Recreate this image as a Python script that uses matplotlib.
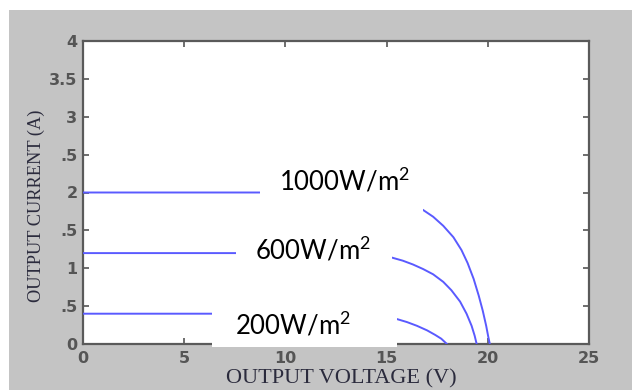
import matplotlib
matplotlib.use('Agg')
import matplotlib.pyplot as plt
from matplotlib.patches import Rectangle

# --------------------------------------------------
# Data
# --------------------------------------------------

v_1000 = [0, 4, 8, 12, 13, 14, 15, 16, 16.8, 17.3, 17.8, 18.3, 18.7, 19.0,
          19.3, 19.55, 19.75, 19.92, 20.02, 20.1]
i_1000 = [2.0, 2.0, 2.0, 2.0, 1.99, 1.97, 1.93, 1.85, 1.77, 1.68, 1.56, 1.41, 1.24, 1.07,
          0.86, 0.64, 0.44, 0.24, 0.10, 0.0]

v_600 = [0, 4, 8, 12, 13, 14, 14.5, 15.27, 15.8, 16.3, 16.8, 17.3, 17.8, 18.2,
         18.63, 18.95, 19.2, 19.35, 19.45]
i_600 = [1.2, 1.2, 1.2, 1.2, 1.19, 1.18, 1.17, 1.14, 1.10, 1.05, 0.99, 0.92, 0.82, 0.71,
         0.56, 0.40, 0.24, 0.11, 0.0]

v_200 = [0, 4, 8, 12, 13, 14, 14.5, 15.5, 16.0, 16.5, 17.0, 17.4, 17.7, 17.98]
i_200 = [0.4, 0.4, 0.4, 0.4, 0.39, 0.38, 0.37, 0.33, 0.29, 0.24, 0.18, 0.12, 0.07, 0.0]

labels = ['1000W/m$^2$', '600W/m$^2$', '200W/m$^2$']

x_ticks = [0, 5, 10, 15, 20, 25]
y_ticks = [0, 0.5, 1, 1.5, 2, 2.5, 3, 3.5, 4]
y_tick_labels = ['0', '.5', '1', '.5', '2', '.5', '3', '3.5', '4']

# --------------------------------------------------
# Style
# --------------------------------------------------

BG_GREY = '#c4c4c4'
LINE_BLUE = '#5a5aff'
TICK_GREY = '#555555'
AXIS_TEXT = '#2b2b3d'

plt.rcParams['mathtext.fontset'] = 'custom'
plt.rcParams['mathtext.rm'] = 'Lato'

fig = plt.figure(figsize=(6.32, 3.90), dpi=100)
fig.patch.set_facecolor('white')
# grey window background (white margin at top and left like the screenshot)
fig.patches.append(Rectangle((9 / 632, 0), 1, 1 - 10 / 390, transform=fig.transFigure,
                             facecolor=BG_GREY, edgecolor='none', zorder=-5))

ax = fig.add_axes([83 / 632, 46 / 390, 506 / 632, 303 / 390])
ax.set_facecolor('white')

for v, i in [(v_1000, i_1000), (v_600, i_600), (v_200, i_200)]:
    ax.plot(v, i, color=LINE_BLUE, lw=1.4, zorder=3, solid_joinstyle='round')

ax.set_xlim(0, 25)
ax.set_ylim(0, 4)
ax.set_xticks(x_ticks)
ax.set_yticks(y_ticks)
ax.set_yticklabels(y_tick_labels)
ax.tick_params(direction='in', length=4, width=1.2, color=TICK_GREY,
               top=True, right=True, labelsize=11.5, labelcolor=TICK_GREY)
ax.tick_params(axis='x', pad=5)
ax.tick_params(axis='y', pad=4)
for t in ax.get_xticklabels() + ax.get_yticklabels():
    t.set_fontweight('bold')
for s in ax.spines.values():
    s.set_color('#5a5a5a')
    s.set_linewidth(1.6)

# white label boxes pasted over the curves (as in the source image)
boxes = [(8.75, 1.61, 8.05, 0.85), (7.56, 0.71, 7.71, 0.85), (6.37, -0.04, 9.14, 0.73)]
text_pos = [(9.7, 2.02), (8.5, 1.11), (7.5, 0.13)]
for (x0, y0, w, h), (tx, ty), lab in zip(boxes, text_pos, labels):
    ax.add_patch(Rectangle((x0, y0), w, h, facecolor='white', edgecolor='none',
                           zorder=5, clip_on=False))
    ax.text(tx, ty, lab, fontsize=18.5, family='Lato', color='black',
            ha='left', va='baseline', zorder=6)

fig.text(341 / 632, 1 - 369 / 390, 'OUTPUT VOLTAGE (V)', family='Liberation Serif',
         fontsize=16, color=AXIS_TEXT, ha='center', va='top')
fig.text(36 / 632, 1 - 206 / 390, 'OUTPUT CURRENT (A)', family='Liberation Serif',
         fontsize=13.2, color=AXIS_TEXT, ha='center', va='center', rotation=90)

fig.savefig('out.png', dpi=100, facecolor='white')
